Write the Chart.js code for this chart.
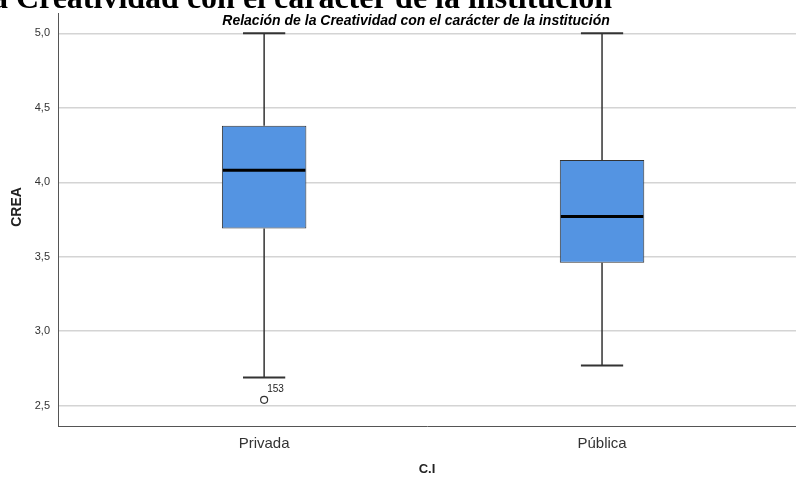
<!DOCTYPE html>
<html>
  <head>
    <title>Relación de la Creatividad con el carácter de la institución</title>
    <script src="https://cdn.jsdelivr.net/npm/chart.js@4"></script>
    <style>
      html,
      body {
        margin: 0;
        padding: 0;
        background: #fff;
        overflow: hidden;
      }
      #container {
        position: relative;
        width: 796px;
        height: 479px;
      }
      #heading {
        position: absolute;
        right: 184px;
        top: -19px;
        margin: 0;
        font: bold 32px 'Liberation Serif', 'Times New Roman', serif;
        line-height: 32px;
        white-space: nowrap;
        color: #000;
      }
    </style>
  </head>

  <body>
    <div id="container">
      <canvas id="canvas" width="796" height="479"></canvas>
      <h1 id="heading">Relación de la Creatividad con el carácter de la institución</h1>
    </div>
    <script>
      // box plot statistics per group
      const categories = ['Privada', 'Pública'];
      const lowerWhisker = [2.69, 2.77];
      const q1 = [3.69, 3.46];
      const median = [4.08, 3.77];
      const q3 = [4.38, 4.15];
      const upperWhisker = [5.0, 5.0];
      // outliers: value, group index, case id
      const outlierValues = [2.54];
      const outlierGroup = [0];
      const outlierIds = ['153'];
      const yTicks = [2.5, 3.0, 3.5, 4.0, 4.5, 5.0];

      const subtitle = 'Relación de la Creatividad con el carácter de la institución';
      const yTitle = 'CREA';
      const sans = "'Liberation Sans', Arial, sans-serif";
      const BOX_WIDTH = 0.25; // in category units
      const CAP_WIDTH = 0.125;

      Chart.defaults.font.family = sans;

      // whiskers, medians, outlier labels and the inner titles
      const boxExtras = {
        id: 'boxExtras',
        beforeDatasetsDraw(chart) {
          const { ctx } = chart;
          const x = chart.scales.x;
          const y = chart.scales.y;
          ctx.save();
          ctx.strokeStyle = '#333';
          categories.forEach((c, i) => {
            const cx = x.getPixelForValue(i + 1);
            const l = x.getPixelForValue(i + 1 - CAP_WIDTH / 2);
            const r = x.getPixelForValue(i + 1 + CAP_WIDTH / 2);
            const yHi = y.getPixelForValue(upperWhisker[i]);
            const yLo = y.getPixelForValue(lowerWhisker[i]);
            ctx.lineWidth = 1.5;
            ctx.beginPath();
            ctx.moveTo(cx, y.getPixelForValue(q3[i]));
            ctx.lineTo(cx, yHi);
            ctx.moveTo(cx, y.getPixelForValue(q1[i]));
            ctx.lineTo(cx, yLo);
            ctx.stroke();
            ctx.lineWidth = 2;
            ctx.beginPath();
            ctx.moveTo(l, yHi);
            ctx.lineTo(r, yHi);
            ctx.moveTo(l, yLo);
            ctx.lineTo(r, yLo);
            ctx.stroke();
          });
          ctx.restore();
        },
        afterDatasetsDraw(chart) {
          const { ctx } = chart;
          const x = chart.scales.x;
          const y = chart.scales.y;
          ctx.save();
          ctx.strokeStyle = '#000';
          ctx.lineWidth = 3;
          categories.forEach((c, i) => {
            const l = x.getPixelForValue(i + 1 - BOX_WIDTH / 2);
            const r = x.getPixelForValue(i + 1 + BOX_WIDTH / 2);
            const ym = y.getPixelForValue(median[i]);
            ctx.beginPath();
            ctx.moveTo(l + 1, ym);
            ctx.lineTo(r - 1, ym);
            ctx.stroke();
          });
          ctx.fillStyle = '#222';
          ctx.font = '10px ' + sans;
          ctx.textAlign = 'left';
          ctx.textBaseline = 'alphabetic';
          outlierValues.forEach((v, k) => {
            const px = x.getPixelForValue(outlierGroup[k] + 1);
            const py = y.getPixelForValue(v);
            ctx.fillText(outlierIds[k], px + 3, py - 8);
          });
          ctx.fillStyle = '#000';
          ctx.font = 'italic bold 14px ' + sans;
          ctx.textAlign = 'center';
          ctx.textBaseline = 'middle';
          ctx.fillText(subtitle, 416, 21);
          // y axis title sits a little above the middle of the axis
          ctx.translate(17, 207);
          ctx.rotate(-Math.PI / 2);
          ctx.fillStyle = '#222';
          ctx.font = 'bold 14px ' + sans;
          ctx.fillText(yTitle, 0, 0);
          ctx.restore();
        },
      };

      window.onload = () => {
        const ctx = document.getElementById('canvas').getContext('2d');
        window.myChart = new Chart(ctx, {
          type: 'bar',
          data: {
            datasets: [
              {
                type: 'bar',
                data: categories.map((c, i) => ({ x: i + 1, y: [q1[i], q3[i]] })),
                backgroundColor: '#5494e2',
                borderColor: '#333',
                borderWidth: 1,
                borderSkipped: false,
                barPercentage: BOX_WIDTH,
                categoryPercentage: 1,
              },
              {
                type: 'scatter',
                data: outlierValues.map((v, k) => ({ x: outlierGroup[k] + 1, y: v })),
                pointRadius: 3.5,
                pointBackgroundColor: '#fff',
                pointBorderColor: '#333',
                pointBorderWidth: 1.2,
              },
            ],
          },
          options: {
            responsive: false,
            animation: false,
            layout: { autoPadding: false, padding: { top: 13, left: 0, right: 0, bottom: 0 } },
            plugins: {
              legend: { display: false },
              tooltip: { enabled: false },
            },
            scales: {
              x: {
                type: 'linear',
                min: 0.39,
                max: 2.574,
                offset: false,
                afterBuildTicks: (s) => {
                  s.ticks = categories.map((c, i) => ({ value: i + 1 }));
                },
                afterFit: (s) => {
                  s.height = 53;
                  s.paddingLeft = 0;
                  s.paddingRight = 0;
                },
                grid: { display: false, drawTicks: false },
                border: { display: true, color: '#555', width: 1 },
                ticks: {
                  callback: (v) => categories[v - 1],
                  padding: 9,
                  color: '#333',
                  font: { size: 15 },
                  autoSkip: false,
                  maxRotation: 0,
                },
                title: {
                  display: true,
                  text: 'C.I',
                  color: '#222',
                  font: { size: 13, weight: 'bold' },
                  padding: { top: 0, bottom: 2 },
                },
              },
              y: {
                min: 2.364,
                max: 5.136,
                afterBuildTicks: (s) => {
                  s.ticks = yTicks.map((v) => ({ value: v }));
                },
                afterFit: (s) => {
                  s.width = 58;
                  s.paddingTop = 0;
                  s.paddingBottom = 0;
                },
                grid: { color: '#d4d4d4', lineWidth: 1.5, drawTicks: false },
                border: { display: true, color: '#555', width: 1 },
                ticks: {
                  padding: 8,
                  color: '#333',
                  font: { size: 11 },
                  callback: (v) => v.toFixed(1).replace('.', ','),
                },
              },
            },
          },
          plugins: [boxExtras],
        });
      };
    </script>
  </body>
</html>
